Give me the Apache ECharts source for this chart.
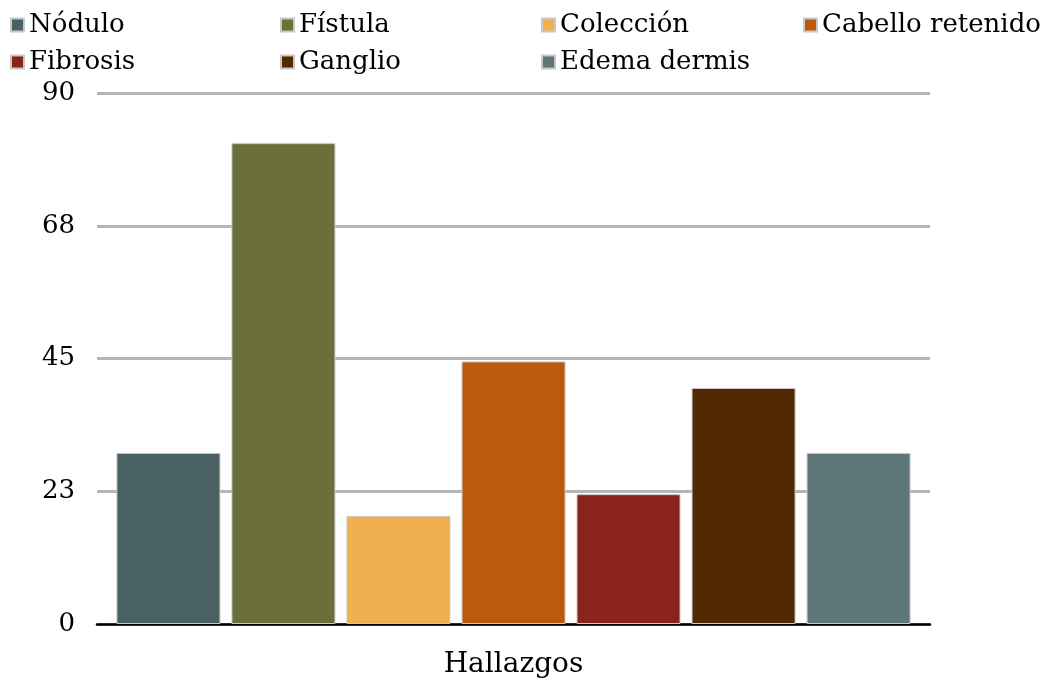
<!DOCTYPE html>
<html>
<head>
<meta charset="utf-8">
<script src="https://cdn.jsdelivr.net/npm/echarts@6/dist/echarts.min.js"></script>
<style>html,body{margin:0;padding:0;background:#fff}#c{width:1054px;height:683px}</style>
</head>
<body>
<div id="c"></div>
<script>
const categories = ['Hallazgos'];
const seriesNames = ['Nódulo', 'Fístula', 'Colección', 'Cabello retenido', 'Fibrosis', 'Ganglio', 'Edema dermis'];
const seriesValues = [29, 81.5, 18.3, 44.5, 22, 40, 29];
const colors = ['#4a6163', '#6b6f3a', '#f0b050', '#bb5a0a', '#8b231d', '#512800', '#5f7679'];
const yTicks = [0, 22.5, 45, 67.5, 90];

const legendPos = [[10, 12], [280, 12], [541, 12], [803, 12], [10, 49], [280, 49], [541, 49]];
const FONT = '"DejaVu Serif", "Liberation Serif", serif';

const chart = echarts.init(document.getElementById('c'));
chart.setOption({
  animation: false,
  color: colors,
  legend: seriesNames.map((n, i) => ({
    data: [n],
    left: legendPos[i][0],
    top: legendPos[i][1],
    icon: 'rect',
    itemWidth: 13,
    itemHeight: 13,
    padding: 0,
    textStyle: { fontSize: 26, fontFamily: FONT, color: '#000' }
  })),
  grid: { left: 97, right: 124, top: 93, bottom: 59, containLabel: false },
  xAxis: {
    type: 'category',
    data: categories,
    axisLine: { lineStyle: { color: '#000', width: 2.5 } },
    axisTick: { show: false },
    axisLabel: { fontSize: 28, fontFamily: FONT, color: '#000', margin: 27 }
  },
  yAxis: {
    type: 'value',
    min: yTicks[0],
    max: yTicks[yTicks.length - 1],
    interval: yTicks[1] - yTicks[0],
    axisLine: { show: false },
    axisTick: { show: false },
    splitLine: { lineStyle: { color: '#b5b5b5', width: 3 } },
    axisLabel: { fontSize: 26, fontFamily: FONT, color: '#000', margin: 22, formatter: v => String(Math.round(v)) }
  },
  series: seriesNames.map((n, i) => ({
    name: n,
    type: 'bar',
    data: [seriesValues[i]],
    barWidth: 104,
    barGap: '10.6%',
    itemStyle: { color: colors[i], borderColor: '#c8c8c8', borderWidth: 1 }
  }))
});
</script>
</body>
</html>
